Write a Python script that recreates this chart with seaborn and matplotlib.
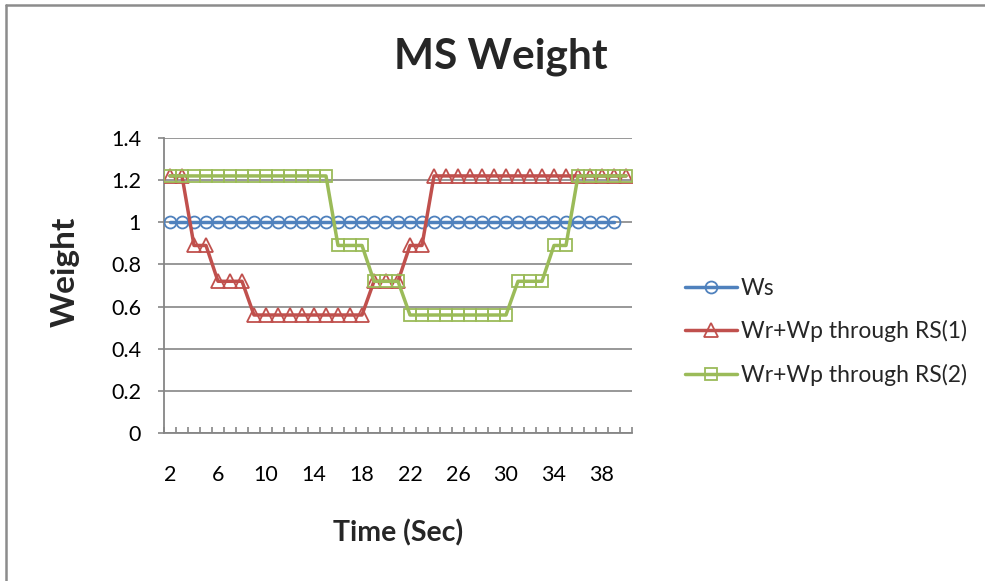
import numpy as np
import pandas as pd
import matplotlib
matplotlib.use("Agg")
import matplotlib.pyplot as plt
import seaborn as sns

# ---- data ----
time_ws = list(range(2, 40))          # Ws has one point fewer
ws = [1.0] * len(time_ws)

time_rs = list(range(2, 41))
rs1 = ([1.22] * 2 + [0.89] * 2 + [0.72] * 3 + [0.56] * 10 +
       [0.72] * 3 + [0.89] * 2 + [1.22] * 17)
rs2 = ([1.22] * 14 + [0.89] * 3 + [0.72] * 3 + [0.56] * 9 +
       [0.72] * 3 + [0.89] * 2 + [1.22] * 5)

x_labels = list(range(2, 39, 4))
y_ticks = [0, 0.2, 0.4, 0.6, 0.8, 1, 1.2, 1.4]

series_names = ["Ws", "Wr+Wp through RS(1)", "Wr+Wp through RS(2)"]
colors = ["#4F81BD", "#C0504D", "#9BBB59"]
markers = ["o", "^", "s"]
msizes = [8.6, 9.5, 8.6]

sns.set_theme(style="white")
plt.rcParams["font.family"] = ["Lato", "DejaVu Sans"]

W, H = 985, 581
fig = plt.figure(figsize=(W / 100, H / 100), dpi=100)
ax = fig.add_axes([164 / W, (H - 433) / H, 468 / W, 295 / H])

data = [(time_ws, ws), (time_rs, rs1), (time_rs, rs2)]
for i, (xs, ys) in enumerate(data):
    df = pd.DataFrame({"Time": xs, "Weight": ys})
    sns.lineplot(data=df, x="Time", y="Weight", ax=ax, color=colors[i],
                 linewidth=2.5, marker=markers[i], markersize=msizes[i],
                 markerfacecolor="none", markeredgecolor=colors[i],
                 markeredgewidth=1.3, label=series_names[i], zorder=3 + i)

ax.set_xlim(1.5, 40.5)
ax.set_ylim(0, 1.4)
ax.set_yticks(y_ticks)
ax.set_yticklabels([f"{v:g}" for v in y_ticks])
ax.set_xticks(x_labels)
ax.set_xticks(np.arange(1.5, 41, 1), minor=True)

ax.yaxis.grid(True, color="#868686", linewidth=1.2)
ax.set_axisbelow(True)
for s in ["top", "right"]:
    ax.spines[s].set_visible(False)
for s in ["left", "bottom"]:
    ax.spines[s].set_color("#868686")
    ax.spines[s].set_linewidth(1.3)

ax.tick_params(axis="y", which="major", direction="out", length=4.5,
               width=1.2, color="#868686", left=True, pad=12,
               labelsize=15.5, labelcolor="black")
ax.tick_params(axis="x", which="major", length=0, pad=23,
               labelsize=15.5, labelcolor="black")
ax.tick_params(axis="x", which="minor", direction="in", length=4.5,
               width=1.2, color="#868686", bottom=True)

ax.set_xlabel("")
ax.set_ylabel("")

fig.text(501 / W, 1 - 57 / H, "MS Weight", ha="center", va="center",
         fontsize=30.5, fontweight="bold")
fig.text(398 / W, 1 - 533 / H, "Time (Sec)", ha="center", va="center",
         fontsize=20.5, fontweight="bold")
fig.text(65 / W, 1 - 272 / H, "Weight", ha="center", va="center",
         rotation=90, fontsize=24, fontweight="bold")

leg = ax.legend(loc="center left", bbox_to_anchor=(664 / W, 1 - 332 / H),
                bbox_transform=fig.transFigure, frameon=False,
                fontsize=16.5, handlelength=2.3, handletextpad=0.15,
                labelspacing=0.95)

# chart-area border (left and top, as in the screenshot)
fig.add_artist(plt.Line2D([6 / W, 6 / W], [0, 1 - 5 / H], color="#8c8c8c",
                          linewidth=1.8, transform=fig.transFigure))
fig.add_artist(plt.Line2D([6 / W, 1], [1 - 5 / H, 1 - 5 / H], color="#8c8c8c",
                          linewidth=1.8, transform=fig.transFigure))

fig.savefig("out.png", dpi=100)
